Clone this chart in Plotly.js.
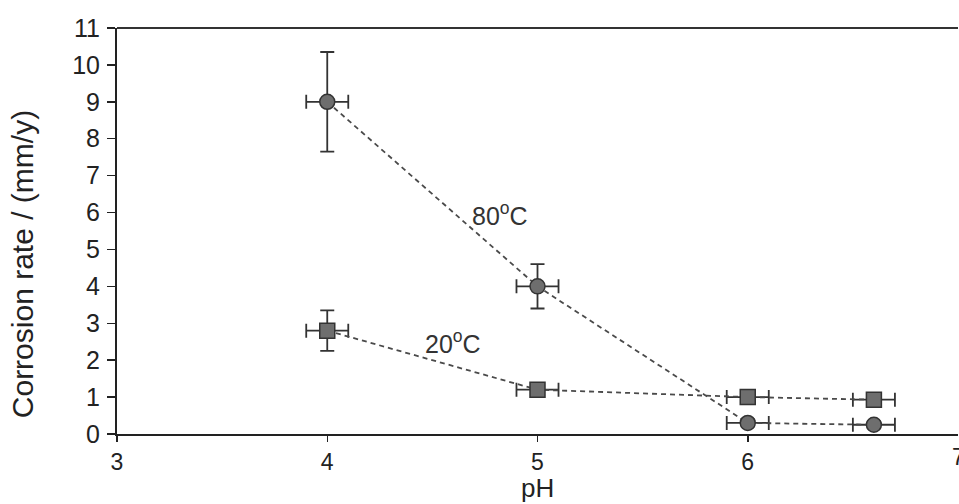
<!DOCTYPE html>
<html>
<head>
<meta charset="utf-8">
<script src="https://cdn.plot.ly/plotly-3.0.1.min.js"></script>
<style>html,body{margin:0;padding:0;background:#fff;}#chart{width:959px;height:504px;}</style>
</head>
<body>
<div id="chart"></div>
<script>
const pH = [4, 5, 6, 6.6];
const rate80 = [9.0, 4.0, 0.3, 0.25];
const err80 = [1.35, 0.6, 0.1, 0.1];
const rate20 = [2.8, 1.2, 1.0, 0.93];
const err20 = [0.55, 0.15, 0.1, 0.1];
const pHerr = [0.1, 0.1, 0.1, 0.1];
const xTicks = [3, 4, 5, 6];
const yTicks = [0, 1, 2, 3, 4, 5, 6, 7, 8, 9, 10, 11];
const xTitle = 'pH';
const yTitle = 'Corrosion rate / (mm/y)';

const lineCol = '#4a4a4a';
const errCol = '#333333';
function series(y, ey, sym, name) {
  return {
    x: pH, y: y, name: name, mode: 'lines+markers', type: 'scatter',
    line: {color: lineCol, width: 1.8, dash: '5px,4px'},
    marker: {symbol: sym, size: 15, color: '#6e6e6e', line: {color: '#333', width: 1.5}},
    error_y: {type: 'data', array: ey, visible: true, color: errCol, thickness: 1.8, width: 7},
    error_x: {type: 'data', array: pHerr, visible: true, color: errCol, thickness: 1.8, width: 7},
    showlegend: false
  };
}
const data = [series(rate20, err20, 'square', '20°C'), series(rate80, err80, 'circle', '80°C')];
const layout = {
  width: 959, height: 504,
  margin: {l: 117, r: 1, t: 28, b: 70},
  paper_bgcolor: '#fff', plot_bgcolor: '#fff',
  font: {family: 'Liberation Sans, Arial, sans-serif', color: '#222', size: 24},
  xaxis: {
    range: [3, 7], tickvals: xTicks, ticktext: xTicks.map(String),
    showgrid: false, zeroline: false, showline: true, linecolor: '#222', linewidth: 2,
    ticks: 'outside', ticklen: 6, tickwidth: 1.5, tickcolor: '#222',
    tickfont: {size: 23, color: '#222'}, ticklabelstandoff: 0
  },
  yaxis: {
    range: [0, 11], tickvals: yTicks, ticktext: yTicks.map(String),
    showgrid: false, zeroline: false, showline: true, linecolor: '#222', linewidth: 2,
    ticks: 'outside', ticklen: 8, tickwidth: 1.5, tickcolor: '#222',
    tickfont: {size: 25, color: '#222'}, ticklabelstandoff: 2
  },
  shapes: [
    {type: 'line', xref: 'paper', yref: 'paper', x0: 0, x1: 1, y0: 1, y1: 1, line: {color: '#333', width: 2}}
  ],
  annotations: [
    {x: 4.82, y: 5.95, xref: 'x', yref: 'y', text: '80<sup>o</sup>C', showarrow: false, font: {size: 25, color: '#333'}},
    {x: 4.6, y: 2.5, xref: 'x', yref: 'y', text: '20<sup>o</sup>C', showarrow: false, font: {size: 25, color: '#333'}},
    {x: 7, y: 0, xref: 'x', yref: 'paper', yanchor: 'top', yshift: -8, text: '7', showarrow: false, font: {size: 23, color: '#222'}},
    {x: 5, y: 0, xref: 'x', yref: 'paper', yanchor: 'middle', yshift: -54, text: xTitle, showarrow: false, font: {size: 26, color: '#222'}},
    {x: 0, y: 4.6, xref: 'paper', yref: 'y', xanchor: 'center', xshift: -95, textangle: -90, text: yTitle, showarrow: false, font: {size: 30, color: '#222'}}
  ]
};
Plotly.newPlot('chart', data, layout, {displayModeBar: false, staticPlot: true});
</script>
</body>
</html>
